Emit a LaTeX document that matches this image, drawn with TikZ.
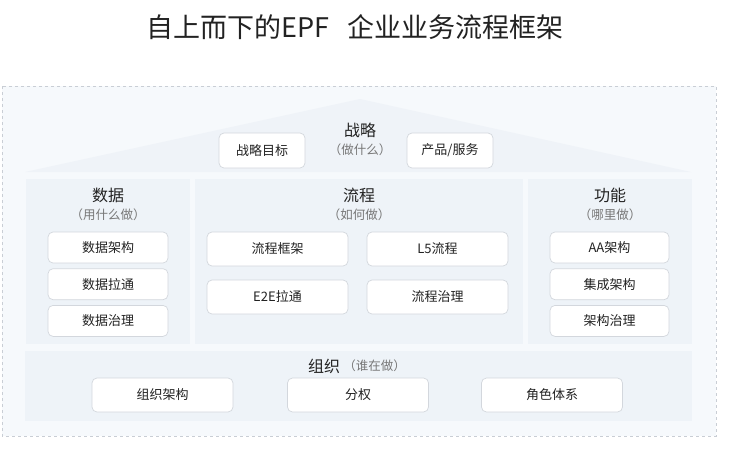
\documentclass[tikz,border=0pt]{standalone}
\usepackage{fontspec}
\setmainfont{Noto Sans CJK SC}
\usepackage{tikz}
\usetikzlibrary{positioning}
\definecolor{framefill}{HTML}{F6F9FC}
\definecolor{frameline}{HTML}{C9CED5}
\definecolor{rooffill}{HTML}{EFF3F8}
\definecolor{panelfill}{HTML}{EEF3F8}
\definecolor{boxline}{HTML}{D3D7DD}
\definecolor{maintext}{HTML}{222222}
\definecolor{subtext}{HTML}{777777}

\begin{document}
\begin{tikzpicture}[x=1pt,y=-1pt,node distance=5pt]
    \tikzset{rounded/.style={draw=boxline,line width=0.7pt,fill=white,rectangle,rounded corners=5pt,
        font=\fontsize{13}{13}\selectfont,text=maintext,inner sep=0pt}}
    \tikzset{panel/.style={fill=panelfill,rectangle,inner sep=0pt,minimum height=165pt}}
    \tikzset{head/.style={font=\fontsize{16}{16}\selectfont,text=maintext,inner sep=0pt}}
    \tikzset{sub/.style={font=\fontsize{12.5}{12.5}\selectfont,text=subtext,inner sep=0pt}}
    \useasboundingbox (0,0) rectangle (742,453);
    % title and frame
    \node[font=\fontsize{27}{27}\selectfont,text=maintext] (title) at (355,27) {自上而下的EPF\hspace{0.7em}企业业务流程框架};
    \draw[frameline,dashed,fill=framefill,line width=0.7pt] (2,86) rectangle (716,436);
    \fill[rooffill] (25,172) -- (360,99) -- (691,172) -- cycle;
    % strategy
    \node[head] (strat) at (360,130) {战略};
    \node[sub] (stratS) [below=6pt of strat] {（做什么）};
    \node[rounded,minimum width=86pt,minimum height=35pt] (goal) at (262,150.5) {战略目标};
    \node[rounded,minimum width=86pt,minimum height=35pt] (prod) at (450,150.5) {产品/服务};
    % panels
    \node[panel,minimum width=164pt] (dataP) at (108,261.5) {};
    \node[panel,minimum width=328pt] (flowP) at (359,261.5) {};
    \node[panel,minimum width=164pt] (funcP) at (610,261.5) {};
    \node[panel,minimum width=667pt,minimum height=70pt] (orgP) at (358.5,386) {};
    % data
    \node[head] (data) at (108,195) {数据};
    \node[sub] (dataS) [below=6pt of data] {（用什么做）};
    \node[rounded,minimum width=120pt,minimum height=31pt] (d1) at (108,247.5) {数据架构};
    \node[rounded,minimum width=120pt,minimum height=31pt] (d2) [below=of d1] {数据拉通};
    \node[rounded,minimum width=120pt,minimum height=31pt] (d3) [below=of d2] {数据治理};
    % flow
    \node[head] (flow) at (359,195) {流程};
    \node[sub] (flowS) [below=6pt of flow] {（如何做）};
    \node[rounded,minimum width=141pt,minimum height=34pt] (f1) at (277.5,249) {流程框架};
    \node[rounded,minimum width=141pt,minimum height=34pt] (f2) at (437.5,249) {L5流程};
    \node[rounded,minimum width=141pt,minimum height=34pt] (f3) at (277.5,297) {E2E拉通};
    \node[rounded,minimum width=141pt,minimum height=34pt] (f4) at (437.5,297) {流程治理};
    % function
    \node[head] (func) at (610,195) {功能};
    \node[sub] (funcS) [below=6pt of func] {（哪里做）};
    \node[rounded,minimum width=119pt,minimum height=31pt] (a1) at (609.5,247.5) {AA架构};
    \node[rounded,minimum width=119pt,minimum height=31pt] (a2) [below=of a1] {集成架构};
    \node[rounded,minimum width=119pt,minimum height=31pt] (a3) [below=of a2] {架构治理};
    % organisation
    \node[head] (org) at (324,366) {组织};
    \node[sub,anchor=west] (orgS) [right=3pt of org] {（谁在做）};
    \node[rounded,minimum width=141pt,minimum height=34pt] (o1) at (162.5,395) {组织架构};
    \node[rounded,minimum width=141pt,minimum height=34pt] (o2) at (358,395) {分权};
    \node[rounded,minimum width=141pt,minimum height=34pt] (o3) at (552,395) {角色体系};
\end{tikzpicture}
\end{document}
